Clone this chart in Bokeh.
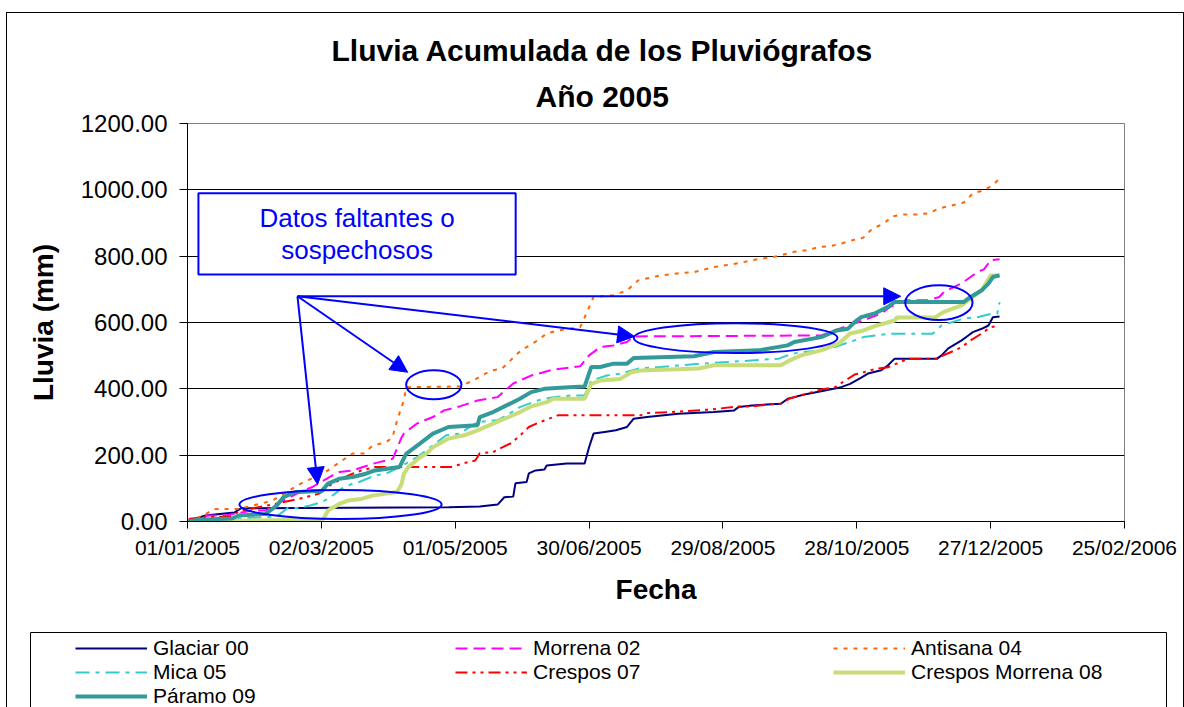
from bokeh.plotting import figure
from bokeh.layouts import column
from bokeh.models import (Range1d, FixedTicker, Title, Legend, LegendItem, Arrow,
                          NormalHead, Label)
from bokeh.embed import file_html
from bokeh.resources import INLINE

FONT = "Liberation Sans"

# ---------------- data (days since 01/01/2005, cumulative rain in mm) -------------
x_ticks = [0, 60, 120, 180, 240, 300, 360, 420]
x_tick_labels = ["01/01/2005", "02/03/2005", "01/05/2005", "30/06/2005",
                 "29/08/2005", "28/10/2005", "27/12/2005", "25/02/2006"]
y_ticks = [0, 200, 400, 600, 800, 1000, 1200]
y_tick_labels = ["0.00", "200.00", "400.00", "600.00", "800.00", "1000.00", "1200.00"]

glaciar_days = [0, 8, 21, 24, 117, 131, 139, 142, 146, 147, 152, 153, 156, 160, 161, 170, 178,
                180, 182, 187, 192, 197, 200, 206, 220, 236, 245, 247, 253, 266, 269, 272, 276,
                284, 293, 297, 302, 305, 311, 314, 317, 336, 338, 341, 347, 350, 352, 356, 359,
                361, 364]
glaciar_mm = [0, 18, 27, 40, 43, 45, 51, 73, 75, 115, 119, 145, 154, 157, 169, 175, 175, 224,
              265, 270, 275, 285, 310, 315, 325, 330, 335, 345, 350, 355, 370, 375, 382, 393,
              405, 415, 434, 446, 456, 471, 491, 491, 501, 522, 546, 561, 571, 581, 591, 616, 618]

morrena_days = [0, 9, 17, 29, 35, 43, 52, 56, 65, 68, 74, 83, 86, 92, 96, 97, 103, 110, 115, 122,
                130, 139, 146, 154, 164, 176, 180, 185, 191, 197, 200, 284, 290, 299, 305, 311,
                315, 322, 332, 337, 339, 347, 354, 357, 360, 364]
morrena_mm = [0, 18, 18, 33, 33, 63, 94, 104, 139, 149, 154, 174, 179, 189, 254, 265, 296, 315,
              335, 347, 365, 375, 416, 440, 458, 468, 501, 526, 531, 541, 558, 561, 576, 597,
              612, 627, 647, 667, 667, 677, 692, 718, 752, 760, 788, 791]

antisana_days = [0, 7, 12, 23, 33, 38, 52, 61, 65, 74, 79, 83, 89, 92, 93, 95, 97, 98, 122, 128,
                 136, 141, 148, 152, 157, 161, 166, 172, 176, 179, 182, 191, 197, 202, 212, 221,
                 227, 236, 248, 253, 263, 272, 278, 283, 288, 293, 298, 303, 307, 312, 316, 321,
                 327, 332, 337, 342, 348, 352, 357, 361, 364]
antisana_mm = [0, 18, 38, 38, 54, 63, 119, 145, 164, 205, 205, 229, 239, 254, 284, 326, 365, 405,
               407, 425, 455, 461, 507, 526, 546, 567, 576, 582, 586, 630, 677, 682, 697, 727,
               742, 749, 752, 767, 780, 788, 798, 813, 818, 828, 830, 838, 848, 856, 883, 898,
               920, 926, 926, 929, 944, 952, 962, 989, 999, 1014, 1034]

mica_days = [0, 20, 40, 45, 50, 55, 60, 63, 69, 74, 77, 84, 89, 95, 103, 110, 116, 122, 130, 139,
             143, 149, 157, 164, 172, 178, 181, 188, 194, 202, 212, 230, 243, 254, 265, 269, 274,
             284, 290, 299, 303, 314, 334, 338, 348, 354, 361, 363, 364]
mica_mm = [0, 8, 15, 41, 41, 48, 58, 68, 99, 114, 119, 139, 144, 164, 194, 230, 260, 265, 300,
           305, 320, 345, 365, 375, 380, 380, 425, 440, 446, 461, 466, 476, 481, 486, 491, 501,
           510, 516, 526, 546, 556, 566, 566, 591, 612, 616, 627, 627, 661]

crespos_days = [0, 1, 8, 19, 24, 37, 51, 59, 64, 71, 74, 78, 84, 118, 124, 129, 131, 137, 140,
                145, 149, 153, 157, 166, 203, 206, 217, 235, 247, 253, 261, 266, 270, 275, 284,
                290, 299, 303, 309, 314, 323, 336, 337, 344, 347, 351, 356, 360, 364]
crespos_mm = [0, 8, 13, 15, 33, 50, 70, 84, 110, 135, 144, 154, 164, 164, 176, 184, 206, 209,
              220, 236, 259, 285, 297, 320, 320, 327, 330, 338, 347, 347, 353, 356, 371, 380,
              398, 404, 443, 450, 461, 465, 491, 491, 496, 516, 526, 546, 567, 586, 591]

cmorrena_days = [0, 30, 60, 61, 63, 68, 72, 78, 83, 89, 94, 96, 97, 99, 104, 107, 110, 117, 124,
                 130, 137, 144, 149, 154, 161, 164, 178, 181, 185, 194, 199, 203, 229, 236, 266,
                 270, 275, 284, 292, 297, 303, 309, 317, 318, 335, 339, 347, 351, 356, 360, 364]
cmorrena_mm = [0, 3, 6, 9, 33, 53, 63, 68, 78, 84, 89, 114, 144, 164, 192, 204, 224, 250, 260,
               275, 295, 315, 330, 347, 360, 370, 370, 415, 425, 430, 450, 455, 461, 471, 471,
               486, 501, 516, 537, 567, 576, 591, 606, 615, 615, 632, 652, 672, 697, 742, 742]

paramo_days = [0, 5, 20, 23, 35, 40, 43, 48, 56, 60, 63, 68, 74, 80, 84, 95, 98, 104, 110, 117,
               130, 131, 137, 143, 149, 154, 160, 171, 178, 181, 185, 191, 197, 200, 227, 236,
               256, 269, 272, 284, 291, 296, 299, 302, 308, 314, 317, 348, 351, 356, 359, 361, 364]
paramo_mm = [0, 5, 9, 18, 23, 48, 73, 88, 91, 91, 114, 129, 134, 144, 154, 164, 204, 234, 265,
             285, 290, 315, 330, 350, 370, 390, 400, 405, 407, 466, 466, 476, 476, 493, 498, 511,
             516, 531, 541, 556, 576, 581, 601, 616, 627, 647, 662, 662, 677, 697, 717, 737, 742]

series_names = ["Glaciar 00", "Morrena 02", "Antisana 04", "Mica 05", "Crespos 07",
                "Crespos Morrena 08", "Páramo 09"]
series_data = [(glaciar_days, glaciar_mm), (morrena_days, morrena_mm),
               (antisana_days, antisana_mm), (mica_days, mica_mm),
               (crespos_days, crespos_mm), (cmorrena_days, cmorrena_mm),
               (paramo_days, paramo_mm)]
series_styles = [
    dict(line_color="#000080", line_width=2),
    dict(line_color="#FF00FF", line_width=2, line_dash="12 6"),
    dict(line_color="#FF6600", line_width=2, line_dash="4 6"),
    dict(line_color="#33CCCC", line_width=2, line_dash="14 6 4 6"),
    dict(line_color="#FF0000", line_width=2, line_dash="12 5 3 5 3 5"),
    dict(line_color="#C8DC78", line_width=4),
    dict(line_color="#339999", line_width=4),
]

# ---------------- main figure ----------------
p = figure(width=1176, height=615, output_backend="svg", toolbar_location=None,
           title=None, x_range=Range1d(0, 420), y_range=Range1d(0, 1200),
           min_border_left=180, min_border_right=59, min_border_top=110,
           min_border_bottom=107, background_fill_color="white",
           border_fill_color="white")
p.outline_line_color = "#808080"
p.outline_line_width = 1

# titles (first added sits closest to the plot)
p.add_layout(Title(text="Año 2005", align="left", offset=348, text_font=FONT,
                   text_font_size="30px", text_font_style="bold", text_color="black",
                   standoff=22), "above")
p.add_layout(Title(text="Lluvia Acumulada de los Pluviógrafos", align="left", offset=144,
                   text_font=FONT, text_font_size="30px", text_font_style="bold",
                   text_color="black", standoff=0), "above")

# axes
p.xaxis.ticker = FixedTicker(ticks=x_ticks)
p.xaxis.major_label_overrides = dict(zip(x_ticks, x_tick_labels))
p.yaxis.ticker = FixedTicker(ticks=y_ticks)
p.yaxis.major_label_overrides = dict(zip(y_ticks, y_tick_labels))
for ax in (p.xaxis[0], p.yaxis[0]):
    ax.axis_line_color = "black"
    ax.major_tick_line_color = "black"
    ax.minor_tick_line_color = None
    ax.major_tick_in = 0
    ax.major_label_text_font = FONT
    ax.major_label_text_color = "black"
    ax.axis_label_text_font = FONT
    ax.axis_label_text_font_style = "bold"
    ax.axis_label_text_font_size = "28px"
    ax.axis_label_text_color = "black"
p.xaxis.major_tick_out = 7
p.yaxis.major_tick_out = 8
p.xaxis.major_label_text_font_size = "21px"
p.yaxis.major_label_text_font_size = "24px"
p.xaxis.major_label_standoff = 7
p.yaxis.major_label_standoff = 12
p.xaxis.axis_label = "Fecha"
p.yaxis.axis_label = "Lluvia (mm)"
p.xaxis.axis_label_standoff = 12
p.yaxis.axis_label_standoff = 19

p.xgrid.visible = False
p.ygrid.grid_line_color = "black"
p.ygrid.grid_line_width = 1

# ---------------- annotation box (white fill hides the gridline) -------------
p.quad(left=4.9, right=147.1, top=990, bottom=745, fill_color="white",
       line_color="#0000FF", line_width=2)
p.add_layout(Label(x=76, y=914, text="Datos faltantes o", text_align="center",
                   text_baseline="middle", text_color="#0000FF", text_font=FONT,
                   text_font_size="26px"))
p.add_layout(Label(x=76, y=818, text="sospechosos", text_align="center",
                   text_baseline="middle", text_color="#0000FF", text_font=FONT,
                   text_font_size="26px"))

# ---------------- series ----------------
for (d, v), st in zip(series_data, series_styles):
    p.line(d, v, **st)

# ---------------- ellipses and arrows ----------------
p.ellipse(x=[68.6, 110.4, 245.7, 336.8], y=[51, 412, 553, 660],
          width=[90.6, 24.8, 91.3, 30.2], height=[87.5, 87.5, 90, 105],
          fill_alpha=0, line_color="#0000FF", line_width=2)
ox, oy = 49.3, 679
for (ex, ey) in [(58.3, 112), (98.7, 450), (200.4, 558), (319.7, 679)]:
    p.add_layout(Arrow(end=NormalHead(size=17, fill_color="#0000FF", line_color="#0000FF"),
                       x_start=ox, y_start=oy, x_end=ex, y_end=ey,
                       line_color="#0000FF", line_width=2))

# ---------------- legend strip (own small figure, 1 data unit = 1 pixel) -------------
# x range is shifted so the series themselves stay out of view in this strip
XOFF = -1200
pl = figure(width=1176, height=79, output_backend="svg", toolbar_location=None,
            title=None, x_axis_type=None, y_axis_type=None,
            x_range=Range1d(XOFF, XOFF + 1176), y_range=Range1d(79, 0),
            min_border_left=0, min_border_right=0, min_border_top=0, min_border_bottom=0,
            background_fill_color="white", border_fill_color="white")
pl.outline_line_color = None
pl.grid.visible = False
for fig in (p, pl):
    try:
        fig.frame_align = False
    except Exception:
        pass
pl.quad(left=XOFF + 23, right=XOFF + 1159, top=4, bottom=95, fill_color="white",
        line_color="black", line_width=1)
leg_renderers = [pl.line(d, v, **st) for (d, v), st in zip(series_data, series_styles)]

def make_legend(idx, loc):
    leg = Legend(items=[LegendItem(label=series_names[i], renderers=[leg_renderers[i]])
                        for i in idx],
                 location=loc, orientation="vertical", label_text_font=FONT,
                 label_text_font_size="21px", label_text_color="black",
                 glyph_width=72, glyph_height=24, label_height=24, label_standoff=6,
                 spacing=0, padding=0, margin=0, border_line_color=None,
                 background_fill_alpha=0)
    pl.add_layout(leg)

make_legend([0, 3, 6], (68, -1))
make_legend([1, 4], (448, 23))
make_legend([2, 5], (826, 23))

layout = column(p, pl, margin=(12, 0, 0, 6), styles={"border": "1px solid black"})

open("out.html", "w").write(file_html(layout, INLINE))
